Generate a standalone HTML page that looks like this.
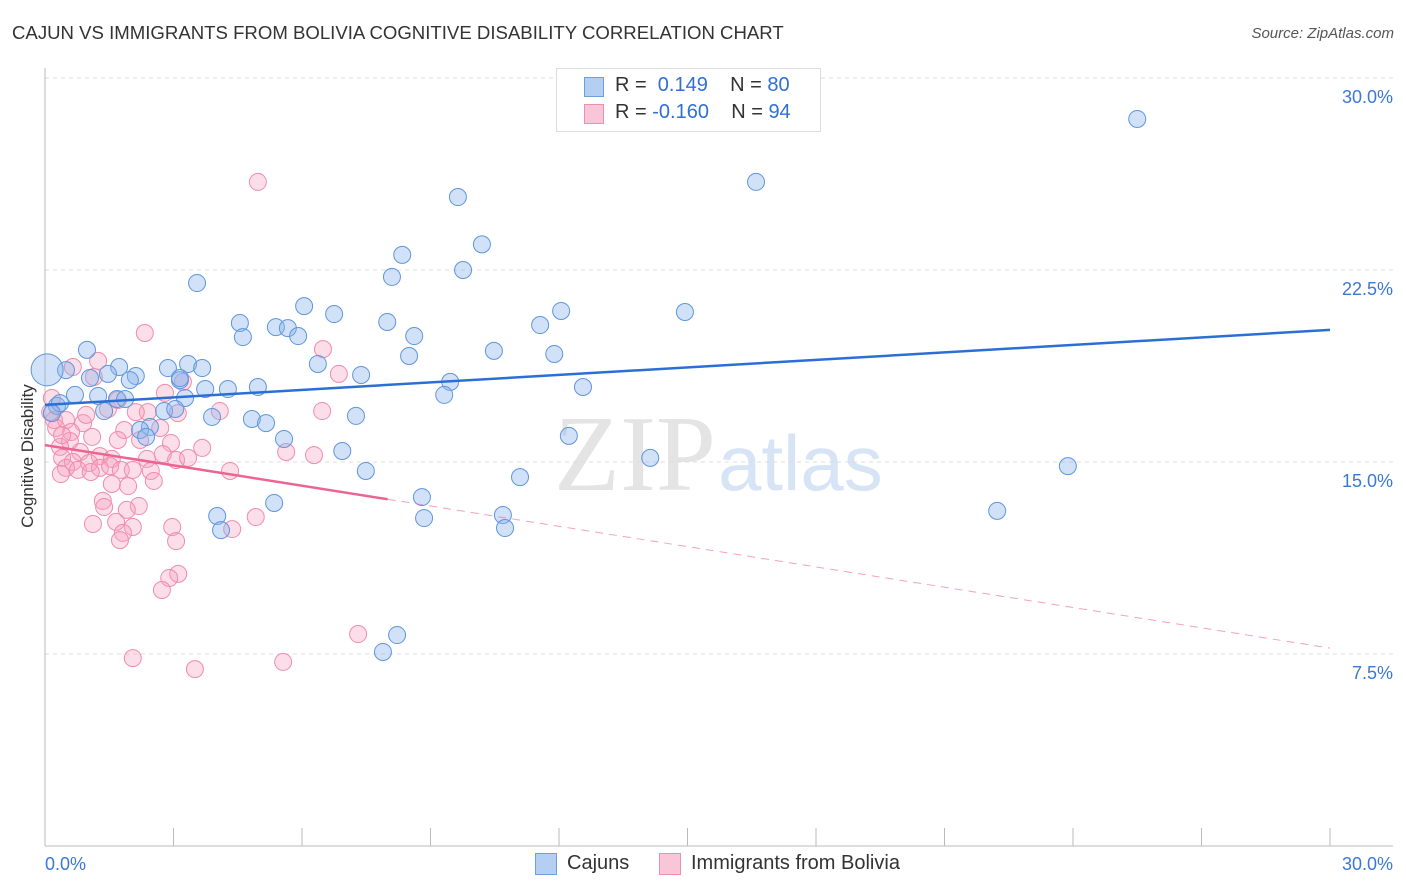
<!DOCTYPE html>
<html><head><meta charset="utf-8"><style>
body{margin:0;background:#fff;font-family:"Liberation Sans",sans-serif;}
#wrap{position:relative;width:1406px;height:892px;overflow:hidden;}
.t{position:absolute;white-space:nowrap;}
</style></head><body>
<div id="wrap">
<div class="t" style="left:12px;top:22px;font-size:18.6px;color:#333;">CAJUN VS IMMIGRANTS FROM BOLIVIA COGNITIVE DISABILITY CORRELATION CHART</div>
<div class="t" style="right:12px;top:25px;font-size:15px;color:#555;font-style:italic;">Source: ZipAtlas.com</div>
<svg id="svg" width="1406" height="892" style="position:absolute;left:0;top:0">
<text x="635" y="490" text-anchor="middle" font-family="Liberation Serif" font-size="108" fill="#e4e4e4">ZIP</text>
<text x="718" y="490" font-family="Liberation Sans" font-size="78" fill="#d6e4f5">atlas</text>
<g id="grid"></g><g id="pts"></g><g id="lines"></g>
<text x="33" y="456" transform="rotate(-90 33 456)" text-anchor="middle" font-size="17" fill="#333">Cognitive Disability</text>
</svg>
<div style="position:absolute;left:556px;top:68px;width:263px;height:62px;border:1px solid #ddd;background:#fff;">
<div style="position:absolute;left:27px;top:8px;width:18px;height:18px;background:#b5cff3;border:1px solid #6a9fe0;"></div>
<div class="t" style="left:58px;top:5px;font-size:20px;color:#333;">R = <span style="color:#2f6fd6;">&nbsp;0.149</span>&nbsp;&nbsp;&nbsp; N = <span style="color:#2f6fd6;">80</span></div>
<div style="position:absolute;left:27px;top:35px;width:18px;height:18px;background:#f8c6d6;border:1px solid #f08cac;"></div>
<div class="t" style="left:58px;top:32px;font-size:20px;color:#333;">R = <span style="color:#2f6fd6;">-0.160</span>&nbsp;&nbsp;&nbsp; N = <span style="color:#2f6fd6;">94</span></div>
</div>
<div style="position:absolute;left:535px;top:853px;width:20px;height:20px;background:#b5cff3;border:1px solid #6a9fe0;"></div>
<div class="t" style="left:567px;top:852px;font-size:20px;color:#333;">Cajuns</div>
<div style="position:absolute;left:659px;top:853px;width:20px;height:20px;background:#f8c6d6;border:1px solid #f08cac;"></div>
<div class="t" style="left:691px;top:852px;font-size:20px;color:#333;">Immigrants from Bolivia</div>
</div>
<script>
const yTicks=[7.5,15,22.5,30];
const yTickLabels=["7.5%","15.0%","22.5%","30.0%"];
const xTickLabels=["0.0%","30.0%"];
const blueX=[25.5,16.6,9.64,10.2,8.34,9.76,8.1,3.55,6.05,6.75,12.05,14.94,4.55,7.99,11.56,5.39,5.67,4.62,5.91,8.62,10.48,11.89,8.5,0.98,1.73,2.87,3.34,3.67,6.37,7.38,0.49,1.05,1.47,2.12,1.98,3.15,3.74,4.27,4.97,12.56,9.46,9.32,0.7,1.24,1.68,1.87,3.27,0.28,1.38,2.78,3.04,3.9,4.83,5.16,7.26,2.45,2.22,2.36,5.58,12.23,6.94,14.13,7.49,11.09,23.88,8.8,5.35,4.02,10.69,8.85,22.23,4.11,10.74,8.22,7.89,0.35,0.16,3.15,0.05];
const blueY=[28.4,25.94,25.35,23.5,23.09,22.5,22.23,21.99,21.09,20.78,20.9,20.86,20.43,20.47,20.35,20.27,20.23,19.88,19.92,19.92,19.34,19.22,19.14,19.38,18.71,18.67,18.83,18.67,18.83,18.4,18.59,18.28,18.44,18.36,18.2,18.2,17.85,17.85,17.93,17.93,18.13,17.62,17.62,17.58,17.46,17.46,17.5,17.19,16.99,16.99,17.07,16.76,16.68,16.52,16.8,16.37,16.25,15.98,15.9,16.02,15.43,15.16,14.65,14.41,14.84,13.63,13.4,12.89,12.93,12.81,13.09,12.34,12.42,8.24,7.58,17.3,16.91,18.28,18.6];
const pinkX=[4.97,2.33,6.49,1.24,0.65,6.86,3.22,1.14,2.8,0.16,1.7,2.4,4.08,6.47,1.47,2.12,3.1,0.21,0.49,0.89,0.26,0.61,1.85,2.69,1.1,0.58,1.7,2.94,3.67,5.63,6.28,0.35,0.82,0.4,1.28,1.56,2.38,2.75,3.06,3.34,0.65,1.03,0.49,0.77,1.28,1.52,1.77,2.05,2.47,4.32,0.37,1.07,1.56,1.94,2.54,2.19,1.35,1.38,1.91,4.92,1.12,1.66,2.05,2.97,1.82,1.75,4.37,3.06,3.11,2.9,2.73,7.31,2.05,5.56,3.5,0.96,0.12,0.4,2.22];
const pinkY=[25.94,20.04,19.41,18.95,18.71,18.44,18.13,18.32,17.7,17.5,17.42,16.95,16.99,16.99,17.07,16.95,16.91,16.64,16.64,16.52,16.33,16.17,16.25,16.33,15.98,15.82,15.86,15.74,15.55,15.39,15.27,15.59,15.39,15.16,15.23,15.12,15.12,15.31,15.08,15.16,15.0,14.96,14.77,14.69,14.77,14.84,14.69,14.69,14.65,14.65,14.53,14.61,14.14,14.06,14.26,13.28,13.48,13.24,13.13,12.85,12.58,12.66,12.46,12.46,12.23,11.95,12.38,11.91,10.63,10.47,10.0,8.28,7.34,7.19,6.91,16.84,16.95,16.05,15.86];
const blueTrend=[17.23,20.16];
const pinkTrend=[15.66,7.73];
const pinkSolidEnd=8.0;
const NS="http://www.w3.org/2000/svg";
const X=v=>45+v*42.833, Y=v=>846-v*25.6;
function mk(tag,attrs,parent){const e=document.createElementNS(NS,tag);for(const k in attrs)e.setAttribute(k,attrs[k]);parent.appendChild(e);return e;}
const grid=document.getElementById('grid'),pts=document.getElementById('pts'),lines=document.getElementById('lines'),svg=document.getElementById('svg');
yTicks.forEach((t,i)=>{
 const l=mk('line',{x1:45,x2:1393,y1:Y(t),y2:Y(t),stroke:'#ddd','stroke-dasharray':'4,4'},grid);
 
 
 const tx=mk('text',{x:1393,y:Y(t)+25,'text-anchor':'end','font-size':18,fill:'#3a78d8'},svg);
 tx.textContent=yTickLabels[i];
 
 
});
const ax=mk('line',{x1:45,x2:45,y1:68,y2:846,stroke:'#bbb'},grid);


const bx=mk('line',{x1:45,x2:1393,y1:846,y2:846,stroke:'#bbb'},grid);


for(let i=0;i<=10;i++){const v=i*3;const tk=mk('line',{x1:X(v),x2:X(v),y1:828,y2:846,stroke:'#bbb'},grid);
 
 }
[[0,'start',45],[30,'end',1393]].forEach((a,i)=>{const tx=mk('text',{x:a[2],y:870,'text-anchor':a[1],'font-size':18,fill:'#3a78d8'},svg);tx.textContent=xTickLabels[i];
 
 });
pinkX.forEach((x,i)=>{const c=mk('circle',{cx:X(x),cy:Y(pinkY[i]),r:8.5,fill:'rgba(245,160,190,0.35)',stroke:'#f08cac','stroke-width':1},pts);
 
 });
blueX.forEach((x,i)=>{const c=mk('circle',{cx:X(x),cy:Y(blueY[i]),r:i==blueX.length-1?16:8.5,fill:'rgba(140,180,235,0.4)',stroke:'#5f96dc','stroke-width':1},pts);
 
 });
const bl=mk('line',{x1:X(0),y1:Y(blueTrend[0]),x2:X(30),y2:Y(blueTrend[1]),stroke:'#2a6fd6','stroke-width':2.5},lines);


const py=x=>pinkTrend[0]+(pinkTrend[1]-pinkTrend[0])*x/30;
const pl=mk('line',{x1:X(0),y1:Y(py(0)),x2:X(pinkSolidEnd),y2:Y(py(pinkSolidEnd)),stroke:'#ec6494','stroke-width':2.5},lines);


const pd=mk('line',{x1:X(pinkSolidEnd),y1:Y(py(pinkSolidEnd)),x2:X(30),y2:Y(py(30)),stroke:'#ec6494','stroke-width':1,'stroke-dasharray':'8,6','opacity':0.6},lines);


</script>
</body></html>
